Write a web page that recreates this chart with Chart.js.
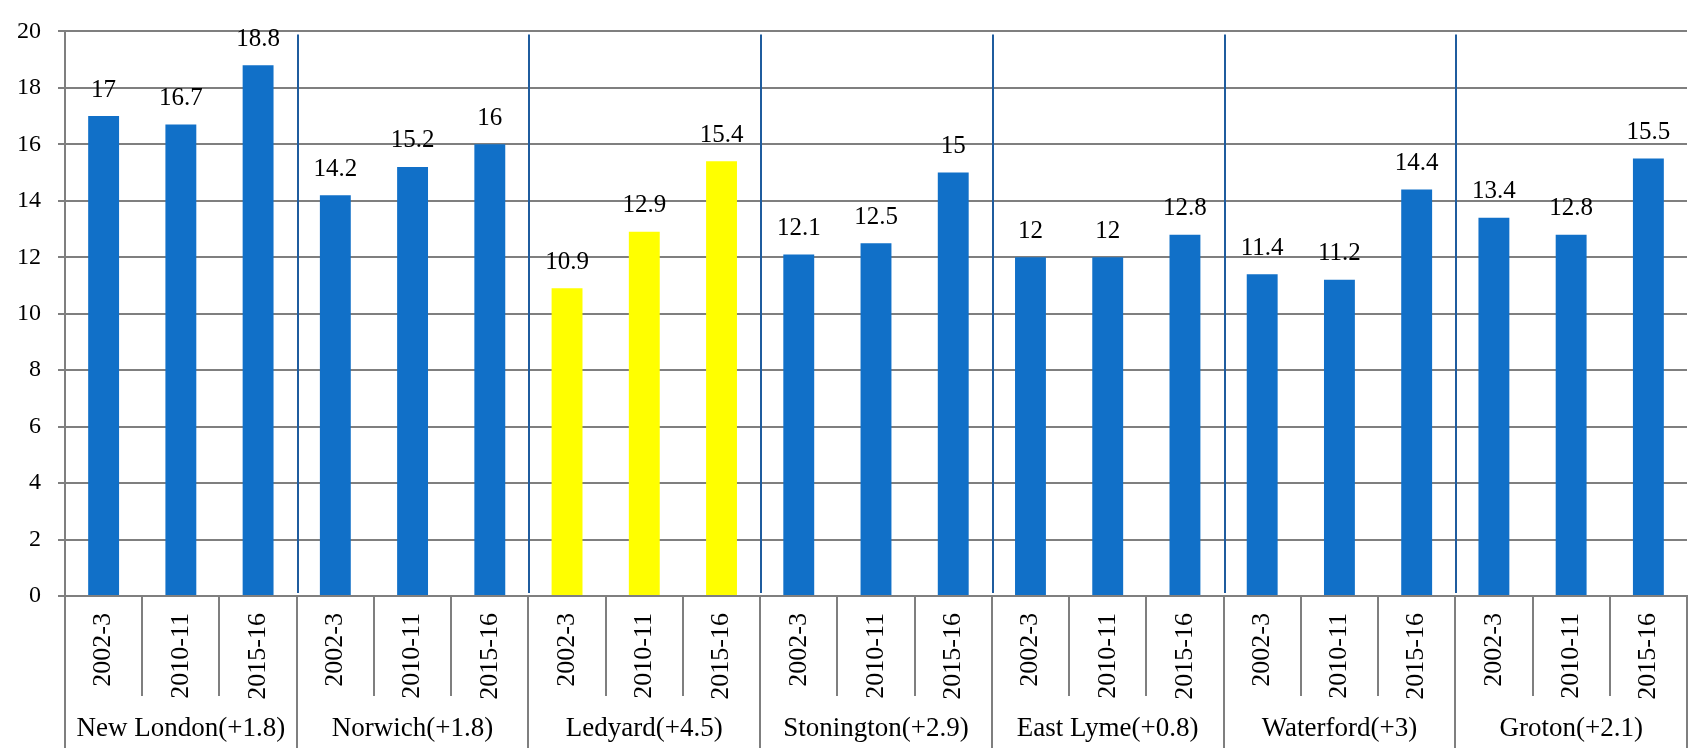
<!DOCTYPE html>
<html>
<head>
<meta charset="utf-8">
<script src="https://cdn.jsdelivr.net/npm/chart.js@4"></script>
<style>
  html, body { margin: 0; padding: 0; background: #fff; }
  #wrap { width: 1690px; height: 748px; }
</style>
</head>
<body>
<div id="wrap"><canvas id="grafico" width="1690" height="748"></canvas></div>
<script>
// towns (with change) and school years
var towns = ["New London(+1.8)", "Norwich(+1.8)", "Ledyard(+4.5)", "Stonington(+2.9)",
             "East Lyme(+0.8)", "Waterford(+3)", "Groton(+2.1)"];
var years = ["2002-3", "2010-11", "2015-16"];

var newLondon  = [17, 16.7, 18.8];
var norwich    = [14.2, 15.2, 16];
var ledyard    = [10.9, 12.9, 15.4];
var stonington = [12.1, 12.5, 15];
var eastLyme   = [12, 12, 12.8];
var waterford  = [11.4, 11.2, 14.4];
var groton     = [13.4, 12.8, 15.5];

var yTicks = [0, 2, 4, 6, 8, 10, 12, 14, 16, 18, 20];

var highlightTown = "Ledyard(+4.5)";

var groups = [newLondon, norwich, ledyard, stonington, eastLyme, waterford, groton];

var labels = [];
var valores = [];
var cores = [];
for (var g = 0; g < groups.length; g++) {
    for (var k = 0; k < years.length; k++) {
        labels.push(years[k]);
        valores.push(groups[g][k]);
        cores.push(towns[g] === highlightTown ? "#ffff00" : "#1170c8");
    }
}

var serif = "'Liberation Serif', 'DejaVu Serif', serif";

// separators, group names and value labels
var extras = {
    id: "extras",
    afterDatasetsDraw: function (chart) {
        var ctx = chart.ctx;
        var area = chart.chartArea;
        var n = labels.length;
        var step = (area.right - area.left) / n;
        var bottom = chart.height;

        ctx.save();
        // value labels
        var meta = chart.getDatasetMeta(0);
        ctx.font = "25px " + serif;
        ctx.fillStyle = "#000";
        ctx.textAlign = "center";
        ctx.textBaseline = "middle";
        for (var i = 0; i < meta.data.length; i++) {
            var bar = meta.data[i];
            ctx.fillText(String(valores[i]), bar.x, bar.y - 26);
        }

        // cell separators under the axis
        ctx.strokeStyle = "#7f7f7f";
        ctx.lineWidth = 2;
        for (var b = 0; b <= n; b++) {
            var bx = Math.round(area.left + b * step);
            if (b === n) bx = area.right;
            var isGroup = (b % years.length === 0);
            ctx.beginPath();
            ctx.moveTo(bx, area.bottom);
            ctx.lineTo(bx, isGroup ? bottom : area.bottom + 100);
            ctx.stroke();
        }

        // blue group dividers in the plot
        ctx.strokeStyle = "#1f5c9e";
        ctx.lineWidth = 2;
        for (var gb = 1; gb < towns.length; gb++) {
            var gx = Math.round(area.left + gb * years.length * step) + 1;
            ctx.beginPath();
            ctx.moveTo(gx, area.top + 3);
            ctx.lineTo(gx, area.bottom - 3);
            ctx.stroke();
        }

        // town names
        ctx.font = "27px " + serif;
        ctx.fillStyle = "#000";
        for (var t = 0; t < towns.length; t++) {
            var cx = area.left + (t * years.length + years.length / 2) * step;
            ctx.fillText(towns[t], cx, area.bottom + 133);
        }
        ctx.restore();
    }
};

function desenhar() {
    var ctx1 = document.getElementById("grafico");

    new Chart(ctx1, {
        type: "bar",
        data: {
            labels: labels,
            datasets: [{
                data: valores,
                backgroundColor: cores,
                barPercentage: 0.4,
                categoryPercentage: 1
            }]
        },
        options: {
            responsive: false,
            animation: false,
            layout: { padding: { top: 15, right: 3, left: 0, bottom: 0 } },
            plugins: {
                legend: { display: false },
                tooltip: { enabled: false }
            },
            scales: {
                x: {
                    grid: { display: false },
                    border: { color: "#7f7f7f", width: 2 },
                    ticks: {
                        minRotation: 90,
                        maxRotation: 90,
                        autoSkip: false,
                        padding: 9,
                        color: "#000",
                        font: { family: serif, size: 26 }
                    },
                    afterFit: function (scale) { scale.height = 152; }
                },
                y: {
                    min: 0,
                    max: 20,
                    afterBuildTicks: function (scale) {
                        scale.ticks = yTicks.map(function (v) { return { value: v }; });
                    },
                    grid: { color: "#7f7f7f", lineWidth: 2, tickLength: 7 },
                    border: { color: "#7f7f7f", width: 2 },
                    ticks: {
                        padding: 17,
                        color: "#000",
                        font: { family: serif, size: 24 }
                    },
                    afterFit: function (scale) { scale.width = 65; }
                }
            }
        },
        plugins: [extras]
    });
}

if (document.fonts && document.fonts.load) {
    Promise.all([
        document.fonts.load("24px 'Liberation Serif'")
    ]).then(desenhar, desenhar);
} else {
    desenhar();
}
</script>
</body>
</html>
